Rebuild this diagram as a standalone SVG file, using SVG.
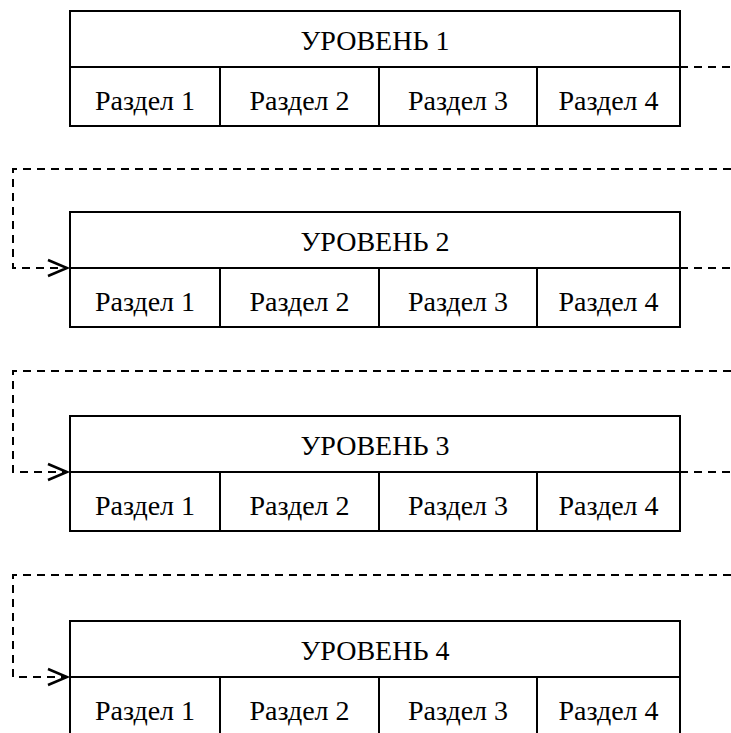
<svg xmlns="http://www.w3.org/2000/svg" width="731" height="733" viewBox="0 0 731 733">
<style>
.box{fill:#fff;stroke:#000;stroke-width:2}
.ln{stroke:#000;stroke-width:2;fill:none}
.t{font-family:'Liberation Serif','Times New Roman',serif;font-size:28px;fill:#000;text-anchor:middle}
.d{stroke:#000;stroke-width:2;fill:none;stroke-dasharray:8 6}
.ah{stroke:#000;stroke-width:2.5;fill:none}
</style>
<g id="connectors">
<path class="d" d="M680,67 H731"/>
<path class="d" d="M731,169 H13 V268 H66"/>
<path class="ah" d="M48,260 L67,268 L48,276"/>
<path class="d" d="M680,268 H731"/>
<path class="d" d="M731,371 H13 V472 H66"/>
<path class="ah" d="M48,464 L67,472 L48,480"/>
<path class="d" d="M680,472 H731"/>
<path class="d" d="M731,575 H13 V677 H66"/>
<path class="ah" d="M48,669 L67,677 L48,685"/>
</g>
<g id="level1" transform="translate(0,11)">
<rect class="box" x="70" y="0" width="610" height="115"/>
<line class="ln" x1="70" y1="56" x2="680" y2="56"/>
<line class="ln" x1="220" y1="56" x2="220" y2="115"/>
<line class="ln" x1="379" y1="56" x2="379" y2="115"/>
<line class="ln" x1="537" y1="56" x2="537" y2="115"/>
<text class="t" x="375" y="39">УРОВЕНЬ 1</text>
<text class="t" x="145" y="99">Раздел 1</text>
<text class="t" x="299.5" y="99">Раздел 2</text>
<text class="t" x="458" y="99">Раздел 3</text>
<text class="t" x="608.5" y="99">Раздел 4</text>
</g>
<g id="level2" transform="translate(0,212)">
<rect class="box" x="70" y="0" width="610" height="115"/>
<line class="ln" x1="70" y1="56" x2="680" y2="56"/>
<line class="ln" x1="220" y1="56" x2="220" y2="115"/>
<line class="ln" x1="379" y1="56" x2="379" y2="115"/>
<line class="ln" x1="537" y1="56" x2="537" y2="115"/>
<text class="t" x="375" y="39">УРОВЕНЬ 2</text>
<text class="t" x="145" y="99">Раздел 1</text>
<text class="t" x="299.5" y="99">Раздел 2</text>
<text class="t" x="458" y="99">Раздел 3</text>
<text class="t" x="608.5" y="99">Раздел 4</text>
</g>
<g id="level3" transform="translate(0,416)">
<rect class="box" x="70" y="0" width="610" height="115"/>
<line class="ln" x1="70" y1="56" x2="680" y2="56"/>
<line class="ln" x1="220" y1="56" x2="220" y2="115"/>
<line class="ln" x1="379" y1="56" x2="379" y2="115"/>
<line class="ln" x1="537" y1="56" x2="537" y2="115"/>
<text class="t" x="375" y="39">УРОВЕНЬ 3</text>
<text class="t" x="145" y="99">Раздел 1</text>
<text class="t" x="299.5" y="99">Раздел 2</text>
<text class="t" x="458" y="99">Раздел 3</text>
<text class="t" x="608.5" y="99">Раздел 4</text>
</g>
<g id="level4" transform="translate(0,621)">
<rect class="box" x="70" y="0" width="610" height="115"/>
<line class="ln" x1="70" y1="56" x2="680" y2="56"/>
<line class="ln" x1="220" y1="56" x2="220" y2="115"/>
<line class="ln" x1="379" y1="56" x2="379" y2="115"/>
<line class="ln" x1="537" y1="56" x2="537" y2="115"/>
<text class="t" x="375" y="39">УРОВЕНЬ 4</text>
<text class="t" x="145" y="99">Раздел 1</text>
<text class="t" x="299.5" y="99">Раздел 2</text>
<text class="t" x="458" y="99">Раздел 3</text>
<text class="t" x="608.5" y="99">Раздел 4</text>
</g>
</svg>
